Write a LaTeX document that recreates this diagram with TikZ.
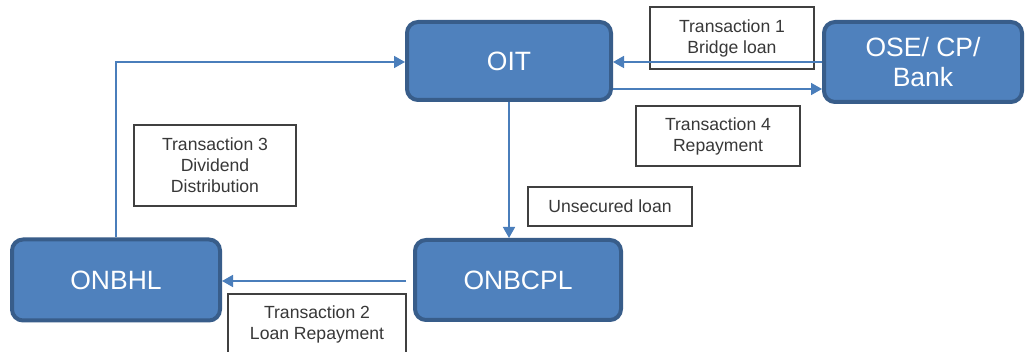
\documentclass[tikz,border=0pt]{standalone}
\usepackage{fontspec}
\setmainfont{Liberation Sans}
\usetikzlibrary{arrows.meta,calc}
\definecolor{boxfill}{HTML}{4F81BD}
\definecolor{boxedge}{HTML}{385D8A}
\definecolor{flow}{HTML}{4A7EBB}
\definecolor{labeltext}{HTML}{383838}
\definecolor{labeledge}{HTML}{404040}

\begin{document}
\begin{tikzpicture}[x=1pt,y=-1pt,
  entity/.style={draw=boxedge, fill=boxfill, line width=4pt, rounded corners=11pt,
    text=white, font=\fontsize{26.5}{30.5}\selectfont, align=center, inner sep=0pt},
  tag/.style={draw=labeledge, line width=1.3pt, text=labeltext,
    font=\fontsize{17.6}{21}\selectfont, align=center, inner sep=0pt},
  flowline/.style={draw=flow, line width=1.6pt, -{Triangle[length=11pt,width=12pt]}}]

% page frame
\path[use as bounding box, fill=white] (0,0) rectangle (1025,352);
\clip (0,0) rectangle (1025,352);

% entities
\node[entity, minimum width=204pt, minimum height=78pt] (oit) at (509,61) {OIT};
\node[entity, minimum width=198pt, minimum height=80pt] (ose) at (923,62) {OSE/ CP/\\Bank};
\node[entity, minimum width=206pt, minimum height=80pt] (onbcpl) at (518,280) {ONBCPL};
\node[entity, minimum width=208pt, minimum height=81pt] (onbhl) at (116,280) {ONBHL};

% transaction labels
\node[tag, minimum width=164pt, minimum height=62pt] (t1) at (732,38) {Transaction 1\\Bridge loan};
\node[tag, minimum width=164pt, minimum height=60pt] (t4) at (718,136) {Transaction 4\\Repayment};
\node[tag, minimum width=162pt, minimum height=81pt] (t3) at (215,165.5) {Transaction 3\\Dividend\\Distribution};
\node[tag, minimum width=164pt, minimum height=39pt] (uns) at (610,206.5) {Unsecured loan};
\node[tag, minimum width=178pt, minimum height=61pt] (t2) at (317,324.5) {Transaction 2\\Loan Repayment};

% flows
\draw[flowline] (ose.west) -- (ose.west -| oit.east);
\draw[flowline] ($(oit.east)+(0,28)$) coordinate (rep) -- (rep -| ose.west);
\draw[flowline] (oit.south) -- (oit.south |- onbcpl.north);
\draw[flowline] ($(onbcpl.west)+(-7,1)$) coordinate (lr) -- (lr -| onbhl.east);
\draw[flowline] (onbhl.north) |- ($(oit.west)+(0,1)$);
\end{tikzpicture}
\end{document}
